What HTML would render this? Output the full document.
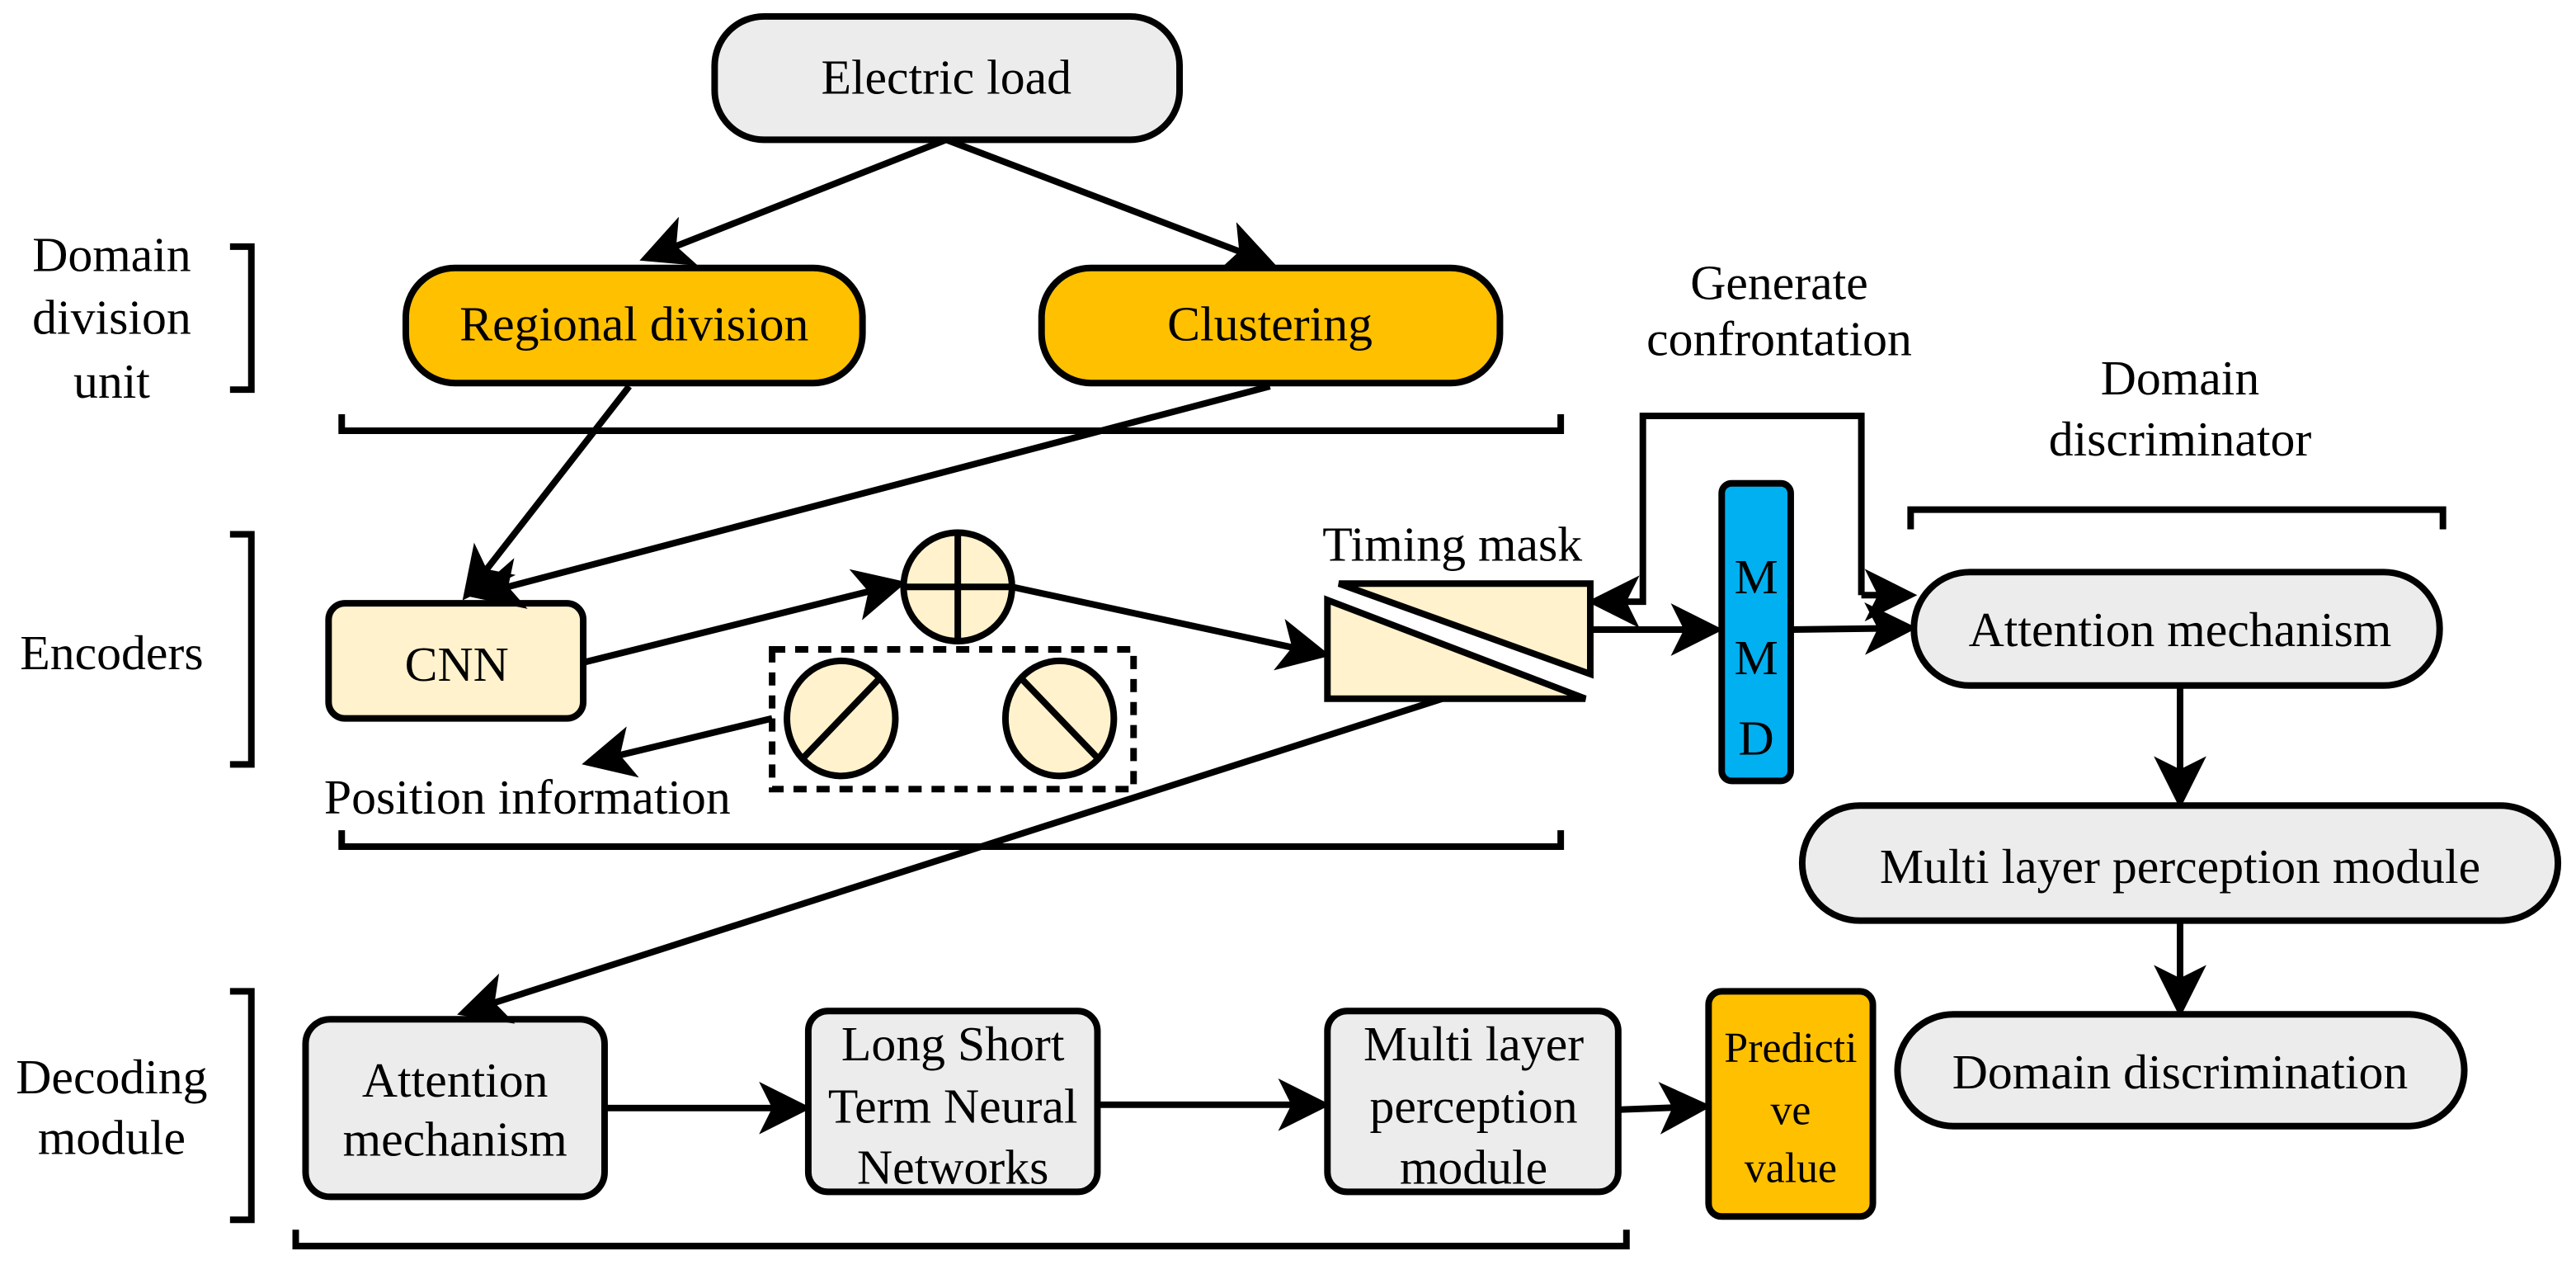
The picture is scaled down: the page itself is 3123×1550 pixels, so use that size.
<!DOCTYPE html>
<html><head><meta charset="utf-8"><style>html,body{margin:0;padding:0;background:#fff}svg{display:block}text{font-family:"Liberation Serif","Times New Roman",serif;font-size:30px}</style></head><body>
<svg width="3123" height="1550" viewBox="0 0 1568 778" preserveAspectRatio="none" xmlns="http://www.w3.org/2000/svg">
<defs><marker id="a" markerWidth="8" markerHeight="8" refX="7" refY="4" orient="auto" markerUnits="strokeWidth"><path d="M0,0 L8,4 L0,8 L2,4z" fill="#000"/></marker></defs>
<g stroke="#000" stroke-width="4">
<rect x="435" y="10" width="283" height="75" rx="30" fill="#ececec"/>
<rect x="247" y="163" width="278" height="70" rx="30" fill="#ffc000"/>
<rect x="634" y="163" width="279" height="70" rx="30" fill="#ffc000"/>
<rect x="200" y="367" width="155" height="70" rx="10" fill="#fff2cc"/>
<rect x="1048" y="294" width="42" height="181" rx="6" fill="#00b0f0"/>
<rect x="1165" y="348" width="320" height="69" rx="34" fill="#ececec"/>
<rect x="1097" y="490" width="460" height="70" rx="35" fill="#ececec"/>
<rect x="1155" y="617" width="345" height="68" rx="34" fill="#ececec"/>
<rect x="186" y="620" width="182" height="108" rx="15" fill="#ececec"/>
<rect x="492" y="615" width="176" height="110" rx="12" fill="#ececec"/>
<rect x="808" y="615" width="177" height="110" rx="12" fill="#ececec"/>
<rect x="1040" y="603" width="100" height="137" rx="8" fill="#ffc000"/>
<rect x="470" y="395" width="220" height="85" fill="none" stroke-dasharray="8,6"/>
<ellipse cx="583" cy="357" rx="33" ry="33" fill="#fff2cc"/>
<line x1="583" y1="324" x2="583" y2="390"/><line x1="550" y1="357" x2="616" y2="357"/>
<ellipse cx="512" cy="437" rx="33" ry="35" fill="#fff2cc"/>
<line x1="488" y1="462" x2="536" y2="412"/>
<ellipse cx="645" cy="437" rx="33" ry="35" fill="#fff2cc"/>
<line x1="621" y1="412" x2="669" y2="462"/>
<path d="M815,355 L968,355 L968,410 Z" fill="#fff2cc"/>
<path d="M808,365 L965,425 L808,425 Z" fill="#fff2cc"/>
<g fill="none">
<path d="M140,150 H153 V237 H140"/><path d="M140,325 H153 V465 H140"/><path d="M140,603 H153 V742 H140"/>
<path d="M208,252 V262 H950 V252"/><path d="M208,505 V515 H950 V505"/><path d="M180,748 V758 H990 V748"/>
<path d="M1163,322 V310 H1487 V322"/>
<line x1="576" y1="85" x2="393" y2="157" marker-end="url(#a)"/>
<line x1="576" y1="85" x2="773" y2="160" marker-end="url(#a)"/>
<line x1="383" y1="235" x2="284" y2="362" marker-end="url(#a)"/>
<line x1="773" y1="235" x2="290" y2="362" marker-end="url(#a)"/>
<line x1="355" y1="403" x2="548" y2="355" marker-end="url(#a)"/>
<line x1="616" y1="357" x2="806" y2="398" marker-end="url(#a)"/>
<line x1="470" y1="437" x2="358" y2="464" marker-end="url(#a)"/>
<line x1="878" y1="425" x2="282" y2="616" marker-end="url(#a)"/>
<path d="M1133,362 V253 H1000 V366 H970" marker-end="url(#a)"/>
<line x1="1133" y1="362" x2="1163" y2="362" marker-end="url(#a)"/>
<line x1="968" y1="383" x2="1045" y2="383" marker-end="url(#a)"/>
<line x1="1090" y1="383" x2="1163" y2="382" marker-end="url(#a)"/>
<line x1="1327" y1="417" x2="1327" y2="488" marker-end="url(#a)"/>
<line x1="1327" y1="560" x2="1327" y2="615" marker-end="url(#a)"/>
<line x1="368" y1="674" x2="490" y2="674" marker-end="url(#a)"/>
<line x1="668" y1="672" x2="806" y2="672" marker-end="url(#a)"/>
<line x1="985" y1="675" x2="1038" y2="673" marker-end="url(#a)"/>
</g></g>
<g text-anchor="middle">
<text x="576" y="57">Electric load</text>
<text x="386" y="207">Regional division</text>
<text x="773" y="207">Clustering</text>
<text x="278" y="414">CNN</text>
<text x="68" y="165">Domain</text><text x="68" y="203">division</text><text x="68" y="242">unit</text>
<text x="68" y="407">Encoders</text>
<text x="68" y="665">Decoding</text><text x="68" y="702">module</text>
<text x="321" y="495">Position information</text>
<text x="884" y="341">Timing mask</text>
<text x="1083" y="182">Generate</text><text x="1083" y="216">confrontation</text>
<text x="1327" y="240">Domain</text><text x="1327" y="277">discriminator</text>
<text x="1069" y="361">M</text><text x="1069" y="410">M</text><text x="1069" y="459">D</text>
<text x="1327" y="393">Attention mechanism</text>
<text x="1327" y="537">Multi layer perception module</text>
<text x="1327" y="662">Domain discrimination</text>
<text x="277" y="667">Attention</text><text x="277" y="703">mechanism</text>
<text x="580" y="645">Long Short</text><text x="580" y="683">Term Neural</text><text x="580" y="720">Networks</text>
<text x="897" y="645">Multi layer</text><text x="897" y="683">perception</text><text x="897" y="720">module</text>
<text x="1090" y="646" style="font-size:26px">Predicti</text><text x="1090" y="684" style="font-size:26px">ve</text><text x="1090" y="719" style="font-size:26px">value</text>
</g>
</svg>
</body></html>
